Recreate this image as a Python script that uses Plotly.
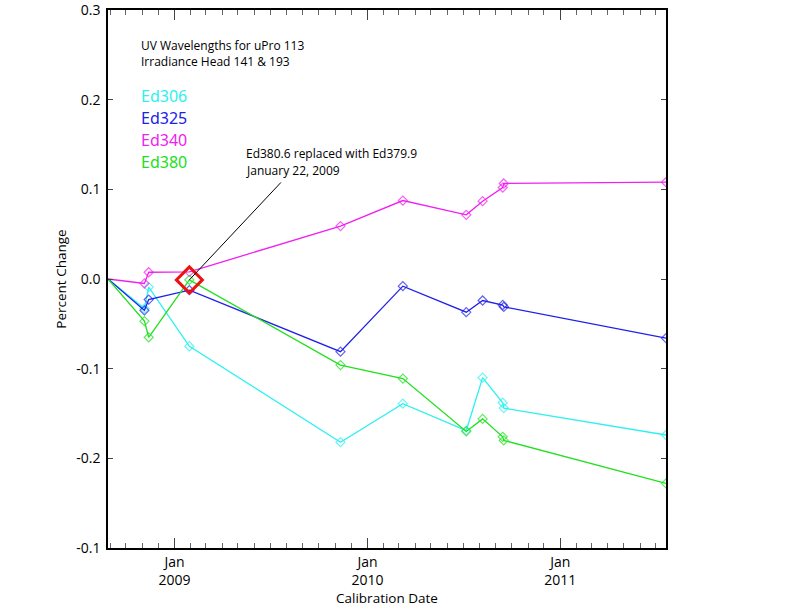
import plotly.graph_objects as go

# ---- data ----
dates = ["2008-08-28", "2008-11-05", "2008-11-13", "2009-01-29", "2009-11-11",
         "2010-03-09", "2010-07-07", "2010-08-07", "2010-09-14", "2010-09-16", "2011-07-20"]
ed306 = [0.0, -0.033, -0.009, -0.075, -0.182, -0.139, -0.169, -0.110, -0.138, -0.144, -0.174]
ed325 = [0.0, -0.035, -0.023, -0.0125, -0.081, -0.008, -0.037, -0.024, -0.029, -0.031, -0.066]
ed340 = [0.0, -0.005, 0.0075, 0.008, 0.059, 0.0875, 0.0716, 0.0868, 0.102, 0.1065, 0.108]
ed380 = [0.0, -0.047, -0.065, -0.001, -0.096, -0.111, -0.170, -0.156, -0.176, -0.180, -0.228]

series_names = ["Ed306", "Ed325", "Ed340", "Ed380"]
series_values = [ed306, ed325, ed340, ed380]
series_colors = ["#2ef0f0", "#2020e8", "#f020f0", "#20e020"]

replaced_date = "2009-01-29"
replaced_value = -0.001

y_tickvals = [-0.3, -0.2, -0.1, 0.0, 0.1, 0.2, 0.3]
y_ticktext = ["-0.1", "-0.2", "-0.1", "0.0", "0.1", "0.2", "0.3"]
x_range = ["2008-08-28", "2011-07-20"]

title_lines = ["UV Wavelengths for uPro 113", "Irradiance Head 141 & 193"]
note_lines = ["Ed380.6 replaced with Ed379.9", "January 22, 2009"]

# ---- figure ----
fig = go.Figure()
n = len(dates)
sizes = [0] + [7] * (n - 1)
for name, vals, col in zip(series_names, series_values, series_colors):
    fig.add_trace(go.Scatter(
        x=dates, y=vals, mode="lines+markers", name=name,
        line=dict(color=col, width=1.3),
        marker=dict(symbol="diamond-open", size=sizes, color=col, line=dict(width=1.2, color=col)),
        showlegend=False,
    ))

fig.add_trace(go.Scatter(
    x=[replaced_date], y=[replaced_value], mode="markers",
    marker=dict(symbol="diamond-open", size=20, color="#ee1111", line=dict(width=3, color="#ee1111")),
    showlegend=False,
))

font_main = "'Open Sans', 'Noto Sans', sans-serif"

fig.update_layout(
    width=792, height=612,
    margin=dict(l=108, r=126, t=10, b=64, autoexpand=False),
    paper_bgcolor="white", plot_bgcolor="white",
    font=dict(family=font_main, size=14, color="black"),
    xaxis=dict(
        type="date", range=x_range, tick0="2009-01-01", dtick="M12",
        tickformat="%b<br>%Y", ticks="inside", ticklen=10, tickcolor="#444",
        showline=True, linecolor="black", linewidth=1.5, mirror="ticks",
        showgrid=False, zeroline=False, automargin=False,
        ticklabeloverflow="allow",
        minor=dict(dtick="M1", ticks="inside", ticklen=5, tickcolor="#666", showgrid=False),
        title=dict(text="Calibration Date", standoff=5, font=dict(size=13.5)),
        tickfont=dict(size=14),
    ),
    yaxis=dict(
        range=[-0.3, 0.3], tickvals=y_tickvals, ticktext=y_ticktext,
        ticks="inside", ticklen=5, tickcolor="#444",
        showline=True, linecolor="black", linewidth=1.5, mirror="ticks",
        showgrid=False, zeroline=False, automargin=False,
        ticklabelstandoff=3, ticklabeloverflow="allow",
        title=dict(text="Percent Change", standoff=7, font=dict(size=13.5)),
        tickfont=dict(size=14),
    ),
)

# title texts
for txt, yy in zip(title_lines, [0.9331, 0.9052]):
    fig.add_annotation(xref="paper", yref="paper", x=0.0556, y=yy, xanchor="left", yanchor="middle",
                       text=txt, showarrow=False, font=dict(size=12))
# legend texts
for i, (name, col) in enumerate(zip(series_names, series_colors)):
    fig.add_annotation(xref="paper", yref="paper", x=0.0556, y=0.840 - i * 0.0411,
                       xanchor="left", yanchor="middle", text=name, showarrow=False,
                       font=dict(size=16, color=col, family="'Noto Sans', sans-serif"))

# arrow line from replaced point
fig.add_annotation(x=replaced_date, y=replaced_value, text=" ", showarrow=True,
                   arrowhead=0, arrowwidth=1, arrowcolor="black", ax=93, ay=-99,
                   font=dict(size=1))
for txt, yy in zip(note_lines, [0.7342, 0.7026]):
    fig.add_annotation(xref="paper", yref="paper", x=0.2437, y=yy, xanchor="left", yanchor="middle",
                       text=txt, showarrow=False, font=dict(size=12))

fig.write_html("out.html", config={"displayModeBar": False},
               post_script="document.body.style.margin='0';")
